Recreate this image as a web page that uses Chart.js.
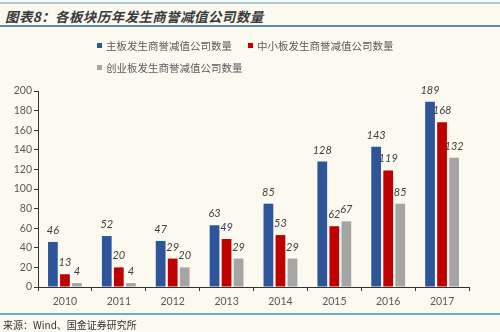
<!DOCTYPE html>
<html>
<head>
<meta charset="utf-8">
<script src="https://cdn.jsdelivr.net/npm/chart.js@4/dist/chart.umd.min.js"></script>
<style>
  html, body { margin: 0; padding: 0; background: #FCF9F0; }
  #wrap { position: relative; width: 500px; height: 332px; overflow: hidden; background: #FCF9F0; }
  #chart { position: absolute; left: 0; top: 0; }
  .rule { position: absolute; left: 0; width: 500px; }
  #title {
    position: absolute; left: 5px; top: 6px;
    font-family: "Noto Sans CJK SC", sans-serif; font-size: 13.5px; font-weight: bold;
    font-style: italic; color: #3a3a3a; letter-spacing: 0.4px; white-space: nowrap;
  }
  #source {
    position: absolute; left: 3px; top: 317px;
    font-family: "Noto Sans CJK SC", sans-serif; font-size: 10px; color: #333;
    white-space: nowrap;
  }
  .leg {
    position: absolute; font-family: "Noto Sans CJK SC", sans-serif; font-size: 10.5px;
    color: #595959; white-space: nowrap; line-height: 14px;
  }
  .leg i { display: inline-block; width: 5px; height: 5px; margin-right: 4px; vertical-align: 2px; }
</style>
</head>
<body>
<div id="wrap">
  <div class="rule" style="top:2px;height:2px;background:#A9CCDC;"></div>
  <div id="title">图表8：各板块历年发生商誉减值公司数量</div>
  <div class="rule" style="top:25px;height:2px;background:#5E8FA6;"></div>
  <canvas id="chart" width="500" height="332"></canvas>
  <div id="legend"></div>
  <div class="rule" style="top:313px;height:2px;background:#6CB0C7;"></div>
  <div id="source">来源：Wind、国金证券研究所</div>
</div>
<script>
// Years on the x axis
const years = ['2010', '2011', '2012', '2013', '2014', '2015', '2016', '2017'];

// Series names
const seriesNames = ['主板发生商誉减值公司数量', '中小板发生商誉减值公司数量', '创业板发生商誉减值公司数量'];

// Company counts per board
const mainBoard = [46, 52, 47, 63, 85, 128, 143, 189];
const smeBoard = [13, 20, 29, 49, 53, 62, 119, 168];
const gemBoard = [4, 4, 20, 29, 29, 67, 85, 132];

// Y axis range
const yMin = 0;
const yMax = 200;
const yStep = 20;

const seriesColors = ['#2E559A', '#C00000', '#A5A5A5'];
const seriesValues = [mainBoard, smeBoard, gemBoard];

// Value labels drawn above each bar
const valueLabels = {
  id: 'valueLabels',
  afterDatasetsDraw(chart) {
    const ctx = chart.ctx;
    ctx.save();
    ctx.font = 'italic 11px Lato, "Liberation Sans", sans-serif';
    ctx.fillStyle = '#404040';
    ctx.textAlign = 'center';
    ctx.textBaseline = 'alphabetic';
    chart.data.datasets.forEach((ds, i) => {
      const meta = chart.getDatasetMeta(i);
      meta.data.forEach((bar, j) => {
        ctx.fillText(String(ds.data[j]), bar.x, bar.y - 8);
      });
    });
    ctx.restore();
  }
};

const chart = new Chart(document.getElementById('chart'), {
  type: 'bar',
  data: {
    labels: years,
    datasets: seriesNames.map((name, i) => ({
      label: name,
      data: seriesValues[i],
      backgroundColor: seriesColors[i],
      borderWidth: 0,
      categoryPercentage: 0.67,
      barPercentage: 0.81
    }))
  },
  options: {
    responsive: false,
    animation: false,
    layout: { padding: { top: 91, right: 31, bottom: 20, left: 0 } },
    plugins: {
      legend: { display: false },
      tooltip: { enabled: false }
    },
    scales: {
      x: {
        afterFit(scale) { scale.height = 25; },
        grid: {
          drawOnChartArea: false, drawTicks: true, tickLength: 4,
          color: '#333', offset: true
        },
        border: { color: '#333', width: 1 },
        ticks: {
          color: '#595959', padding: 4,
          font: { family: 'Lato, "Liberation Sans", sans-serif', size: 10.5 }
        }
      },
      y: {
        min: yMin, max: yMax,
        afterFit(scale) { scale.width = 38; },
        grid: { drawOnChartArea: false, drawTicks: true, tickLength: 4, color: '#333' },
        border: { color: '#333', width: 1 },
        ticks: {
          stepSize: yStep, color: '#595959', padding: 2,
          font: { family: 'Lato, "Liberation Sans", sans-serif', size: 10.5 }
        }
      }
    }
  },
  plugins: [valueLabels]
});

// Legend built from the chart's datasets
const legendPos = [[97, 39], [248, 39], [97, 61]];
const legendEl = document.getElementById('legend');
chart.data.datasets.forEach((ds, i) => {
  const d = document.createElement('div');
  d.className = 'leg';
  d.style.left = legendPos[i][0] + 'px';
  d.style.top = legendPos[i][1] + 'px';
  const sw = document.createElement('i');
  sw.style.background = ds.backgroundColor;
  d.appendChild(sw);
  d.appendChild(document.createTextNode(ds.label));
  legendEl.appendChild(d);
});
</script>
</body>
</html>
